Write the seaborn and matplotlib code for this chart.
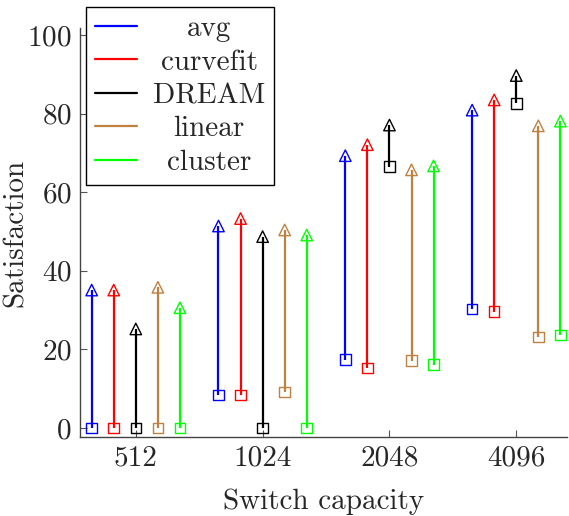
import matplotlib
matplotlib.use("Agg")
import matplotlib.pyplot as plt
from matplotlib.lines import Line2D
import numpy as np
import pandas as pd
import seaborn as sns

# Switch capacities on the x axis
capacities = ["512", "1024", "2048", "4096"]

# Allocation strategies and their colours
methods = ["avg", "curvefit", "DREAM", "linear", "cluster"]
colors = ["#0000ff", "#ff0000", "#000000", "#bf8040", "#00ff00"]

# Satisfaction range (min -> max) per strategy and capacity
avg_min = [0.0, 8.4, 17.4, 30.3]
avg_max = [35.1, 51.4, 69.3, 80.9]
curvefit_min = [0.0, 8.4, 15.3, 29.6]
curvefit_max = [35.1, 53.3, 72.1, 83.5]
dream_min = [0.0, 0.0, 66.5, 82.6]
dream_max = [25.2, 48.7, 77.1, 89.7]
linear_min = [0.0, 9.2, 17.1, 23.1]
linear_max = [35.8, 50.4, 65.7, 76.9]
cluster_min = [0.0, 0.0, 16.1, 23.7]
cluster_max = [30.6, 49.1, 66.7, 78.1]

mins = [avg_min, curvefit_min, dream_min, linear_min, cluster_min]
maxs = [avg_max, curvefit_max, dream_max, linear_max, cluster_max]

shift = 0.174  # horizontal spacing between strategies inside a group
rows = []
for m_i, (name, lo, hi) in enumerate(zip(methods, mins, maxs)):
    for c_i, cap in enumerate(capacities):
        rows.append({"capacity": cap, "method": name,
                     "pos": c_i + (m_i - 2) * shift,
                     "low": lo[c_i], "high": hi[c_i],
                     "color": colors[m_i]})
df = pd.DataFrame(rows)

sns.set_theme(style="ticks")
plt.rcParams["font.family"] = ["cmr10", "DejaVu Serif"]
plt.rcParams["mathtext.fontset"] = "cm"
plt.rcParams["axes.unicode_minus"] = False
plt.rcParams["axes.formatter.use_mathtext"] = True

FS = 21
fig = plt.figure(figsize=(5.69, 5.16), dpi=100)
ax = fig.add_axes([80 / 569, 1 - 437 / 516, 487 / 569, 409 / 516])

# range lines
ax.vlines(df["pos"], df["low"], df["high"], colors=df["color"], lw=1.6, zorder=2)

palette = dict(zip(methods, colors))
n_before = len(ax.collections)
sns.scatterplot(data=df, x="pos", y="low", hue="method", palette=palette,
                marker="s", s=58, linewidth=1.0, legend=False, ax=ax, zorder=3)
sns.scatterplot(data=df, x="pos", y="high", hue="method", palette=palette,
                marker="^", s=68, linewidth=1.0, legend=False, ax=ax, zorder=3)
# hollow markers
for coll in ax.collections[n_before:]:
    fc = coll.get_facecolors()
    coll.set_edgecolors(fc)
    coll.set_facecolors("none")

ax.set_xlim(-0.44, 3.40)
ax.set_ylim(-2.3, 101.8)
ax.set_xticks(range(len(capacities)))
ax.set_xticklabels(capacities)
ax.set_yticks([0, 20, 40, 60, 80, 100])
ax.tick_params(direction="in", length=5, width=0.8, color="#555555",
               labelsize=FS, pad=6)
for side in ["top", "right"]:
    ax.spines[side].set_visible(False)
for side in ["left", "bottom"]:
    ax.spines[side].set_color("#444444")
    ax.spines[side].set_linewidth(1.0)

ax.set_xlabel("Switch capacity", fontsize=FS)
ax.set_ylabel("Satisfaction", fontsize=FS)
ax.xaxis.set_label_coords(0.5, -0.125)
ax.yaxis.set_label_coords(-0.105, 0.5)

handles = [Line2D([0], [0], color=c, lw=1.6) for c in colors]
leg = fig.legend(handles, methods, loc="upper left",
                 bbox_to_anchor=(86 / 569, 1 - 7 / 516),
                 fontsize=FS, frameon=True, fancybox=False,
                 edgecolor="black", framealpha=1, handlelength=1.45,
                 handletextpad=0.55, labelspacing=0.24, borderpad=0.3,
                 borderaxespad=0)
leg.get_frame().set_linewidth(1.0)

# centre each legend label within the text column
fig.canvas.draw()
renderer = fig.canvas.get_renderer()
texts = leg.get_texts()
widths = [t.get_window_extent(renderer).width for t in texts]
wmax = max(widths)
for t, w in zip(texts, widths):
    t.set_x((wmax - w) / 2)

fig.savefig("out.png", dpi=100)
